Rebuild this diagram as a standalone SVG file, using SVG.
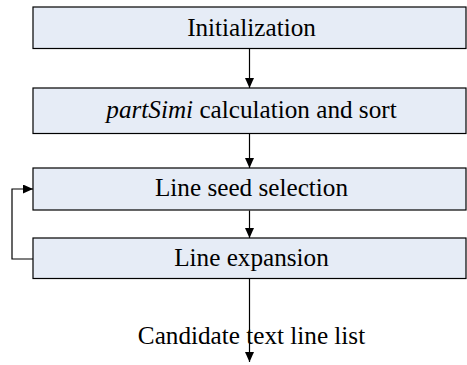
<svg xmlns="http://www.w3.org/2000/svg" width="467" height="365" viewBox="0 0 467 365">
<defs>
<marker id="ah" markerWidth="10" markerHeight="9" refX="10" refY="4.5" orient="auto" markerUnits="userSpaceOnUse">
<path d="M0,0 L10,4.5 L0,9 Z" fill="#000"/>
</marker>
<style>
.box{fill:#E6ECF6;stroke:#000;stroke-width:1.2}
.t{font-family:"Liberation Serif","Times New Roman",serif;font-size:25.2px;fill:#000;text-anchor:middle}
.c{fill:none;stroke:#000;stroke-width:1.2}
</style>
</defs>
<rect width="467" height="365" fill="#fff"/>
<g id="connectors">
<line class="c" x1="249.5" y1="48.5" x2="249.5" y2="88" marker-end="url(#ah)"/>
<line class="c" x1="249.5" y1="133.5" x2="249.5" y2="168" marker-end="url(#ah)"/>
<line class="c" x1="249.5" y1="210.5" x2="249.5" y2="238" marker-end="url(#ah)"/>
<line class="c" x1="249.5" y1="278.5" x2="249.5" y2="362" marker-end="url(#ah)"/>
<polyline class="c" points="33,259 12,259 12,189 33,189" marker-end="url(#ah)"/>
</g>
<g id="n1"><rect class="box" x="33" y="7" width="433" height="41.5"/><text class="t" x="251.5" y="35.5">Initialization</text></g>
<g id="n2"><rect class="box" x="33" y="88" width="433" height="45.5"/><text class="t" x="251.5" y="117.5"><tspan font-style="italic">partSimi</tspan> calculation and sort</text></g>
<g id="n3"><rect class="box" x="33" y="168" width="433" height="42"/><text class="t" x="251.5" y="195.5">Line seed selection</text></g>
<g id="n4"><rect class="box" x="33" y="238" width="433" height="40.5"/><text class="t" x="251.5" y="265.5">Line expansion</text></g>
<g id="label"><text class="t" x="251.5" y="343.5">Candidate text line list</text></g>
</svg>
